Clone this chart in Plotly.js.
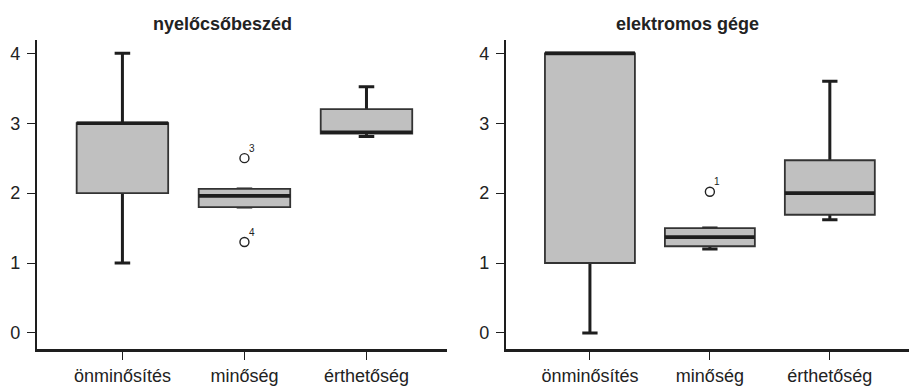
<!DOCTYPE html>
<html>
<head>
<meta charset="utf-8">
<script src="https://cdn.plot.ly/plotly-3.0.1.min.js"></script>
<style>html,body{margin:0;padding:0;background:#fff;}#chart{width:909px;height:386px;}</style>
</head>
<body>
<div id="chart"></div>
<script>
// Categories
const categories = ['önminősítés', 'minőség', 'érthetőség'];

// Panel 1: nyelőcsőbeszéd
const title1 = 'nyelőcsőbeszéd';
const lower1  = [1.00, 1.80, 2.81];
const q1_1    = [2.00, 1.80, 2.85];
const median1 = [3.00, 1.96, 2.87];
const q3_1    = [3.00, 2.06, 3.20];
const upper1  = [4.00, 2.06, 3.52];
const outX1   = ['minőség', 'minőség'];
const outY1   = [2.50, 1.30];
const outLab1 = ['3', '4'];

// Panel 2: elektromos gége
const title2 = 'elektromos gége';
const lower2  = [0.00, 1.20, 1.62];
const q1_2    = [1.00, 1.24, 1.69];
const median2 = [4.00, 1.37, 2.00];
const q3_2    = [4.00, 1.50, 2.47];
const upper2  = [4.00, 1.50, 3.60];
const outX2   = ['minőség'];
const outY2   = [2.02];
const outLab2 = ['1'];

const yTicks = [0, 1, 2, 3, 4];

const BOXW = 0.75;
const FILL = '#c0c0c0';
const INK = '#1e1e1e';
const FONT = 'Liberation Sans, Arial, Helvetica, sans-serif';

function panelTraces(lo, q1, med, q3, up, ox, oy, xa, ya) {
  const common = {type: 'box', x: categories, xaxis: xa, yaxis: ya, width: BOXW,
                  showlegend: false, hoverinfo: 'skip', boxpoints: false};
  return [
    // whiskers with caps
    Object.assign({}, common, {q1: med, median: med, q3: med, lowerfence: lo, upperfence: up,
      fillcolor: 'rgba(0,0,0,0)', line: {color: INK, width: 3}, whiskerwidth: 0.17}),
    // box body
    Object.assign({}, common, {q1: q1, median: med, q3: q3, lowerfence: q1, upperfence: q3,
      fillcolor: FILL, line: {color: '#333333', width: 1.8}, whiskerwidth: 0}),
    // thick median line
    Object.assign({}, common, {q1: med, median: med, q3: med, lowerfence: med, upperfence: med,
      fillcolor: 'rgba(0,0,0,0)', line: {color: INK, width: 3.6}, whiskerwidth: 0}),
    // outliers
    {type: 'scatter', mode: 'markers', x: ox, y: oy, xaxis: xa, yaxis: ya,
     marker: {symbol: 'circle-open', size: 9, color: '#222', line: {width: 1.4, color: '#222'}},
     showlegend: false, hoverinfo: 'skip', cliponaxis: false}
  ];
}

const data = [].concat(
  panelTraces(lower1, q1_1, median1, q3_1, upper1, outX1, outY1, 'x', 'y'),
  panelTraces(lower2, q1_2, median2, q3_2, upper2, outX2, outY2, 'x2', 'y2')
);

function outlierLabels(ox, oy, lab, xa, ya) {
  return ox.map((x, i) => ({text: lab[i], x: x, y: oy[i], xref: xa, yref: ya, showarrow: false,
    xshift: 7.5, yshift: 10, xanchor: 'center', yanchor: 'middle',
    font: {family: FONT, size: 10, color: '#222'}}));
}

function xAxis(domain, anchor) {
  return {domain: domain, anchor: anchor, type: 'category', categoryorder: 'array', categoryarray: categories,
    range: [-0.70, 2.66], showline: true, linecolor: INK, linewidth: 2.5, mirror: false,
    ticks: 'outside', ticklen: 8, tickwidth: 1, tickcolor: INK, showgrid: false, zeroline: false,
    tickfont: {family: FONT, size: 18, color: '#222'}, ticklabelstandoff: 1, fixedrange: true};
}
function yAxis(anchor) {
  return {anchor: anchor, range: [-0.23, 4.19], tickvals: yTicks, showline: true, linecolor: INK, linewidth: 2.2,
    ticks: 'outside', ticklen: 8, tickwidth: 1, tickcolor: INK, showgrid: false, zeroline: false,
    tickfont: {family: FONT, size: 18, color: '#222'}, ticklabelstandoff: 3, fixedrange: true};
}

const layout = {
  width: 909, height: 386,
  margin: {l: 37, r: 0, t: 40, b: 37},
  paper_bgcolor: '#ffffff', plot_bgcolor: '#ffffff',
  showlegend: false,
  boxmode: 'overlay',
  xaxis: xAxis([0, 0.4702], 'y'),
  yaxis: yAxis('x'),
  xaxis2: xAxis([0.5378, 1], 'y2'),
  yaxis2: yAxis('x2'),
  annotations: [
    {text: '<b>' + title1 + '</b>', xref: 'paper', yref: 'paper', x: 0.2122, y: 1.052,
     xanchor: 'center', yanchor: 'middle', showarrow: false, font: {family: FONT, size: 18, color: '#222'}},
    {text: '<b>' + title2 + '</b>', xref: 'paper', yref: 'paper', x: 0.7455, y: 1.052,
     xanchor: 'center', yanchor: 'middle', showarrow: false, font: {family: FONT, size: 18, color: '#222'}}
  ].concat(outlierLabels(outX1, outY1, outLab1, 'x', 'y'), outlierLabels(outX2, outY2, outLab2, 'x2', 'y2'))
};

Plotly.newPlot('chart', data, layout, {staticPlot: true, displayModeBar: false});
</script>
</body>
</html>
